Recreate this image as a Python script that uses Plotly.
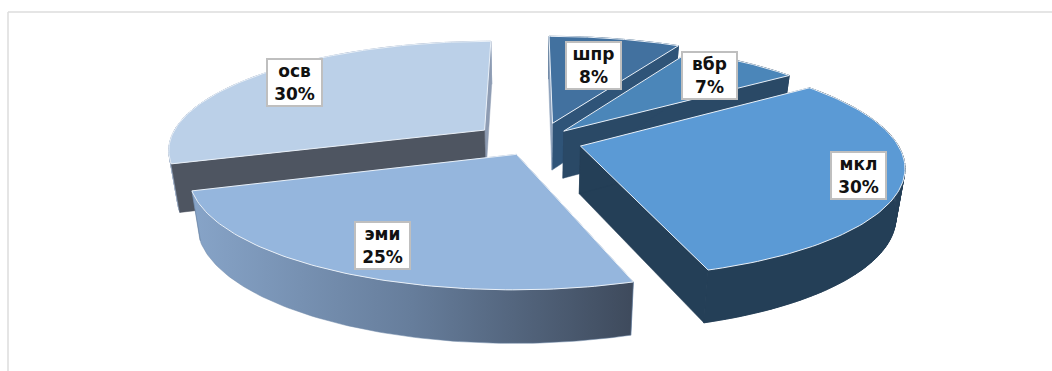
import numpy as np
import plotly.graph_objects as go

# ---- data -------------------------------------------------------------
categories = ["шпр", "вбр", "мкл", "эми", "осв"]
shares = [8, 7, 30, 25, 30]

# ---- style ------------------------------------------------------------
top_colors = ["#42719f", "#4b86b9", "#5b9ad5", "#95b6dd", "#bbd0e8"]
outer_colors = ["#2f5478", "#2a4966", "#243f57", "#6f88a8", "#9fb0c8"]
start_colors = ["#8fa3bd", "#2a4966", "#243f57", "#6f88a8", "#4e5561"]
end_colors = ["#2f5478", "#2a4966", "#243f57", "#6f88a8", "#8e9cb3"]
pull_uv = [(0.08, 0.16), (0.115, 0.084), (0.165, -0.056), (-0.036, -0.131), (-0.14, 0.094)]
label_centers = [(593, 65), (709, 75), (858, 175), (382, 245), (294.5, 82.5)]
draw_order = ["шпр", "вбр", "осв", "мкл", "эми"]
gradient_slice = "эми"
gradient = [[0, "#87a4c8"], [0.5, "#667d9b"], [1, "#3e4a5c"]]

CX, CY, R0, S, P = 528, 140, 315, 107, 0.17
H0, PH, CONVERGE = 47.5, 0.10, 0.976


def project(u, v, bottom=False):
    w = 1 + P * v
    x = CX + R0 * u / w
    y = CY - S * v / w
    if bottom:
        x = CX + (x - CX) * CONVERGE
        y = y + H0 / (1 + PH * v)
    return x, y


def polygon(xs, ys, color, line=None, grad=None):
    kw = dict(fillcolor=color)
    if grad:
        kw = dict(fillgradient=dict(type="horizontal", colorscale=grad))
    return go.Scatter(
        x=list(xs) + [xs[0]], y=list(ys) + [ys[0]], mode="lines", fill="toself",
        line=dict(color=line or color, width=1 if line else 0.5),
        hoverinfo="skip", showlegend=False, **kw,
    )


def strip_quads(tx, ty, bx, by, color):
    xs, ys = [], []
    for k in range(len(tx) - 1):
        xs += [tx[k], tx[k + 1], bx[k + 1], bx[k], tx[k], None]
        ys += [ty[k], ty[k + 1], by[k + 1], by[k], ty[k], None]
    return go.Scatter(
        x=xs, y=ys, mode="lines", fill="toself", fillcolor=color,
        line=dict(color=color, width=0.8), hoverinfo="skip", showlegend=False,
    )


fig = go.Figure()
edges = np.cumsum([0] + shares) / sum(shares) * 2 * np.pi

for name in draw_order:
    i = categories.index(name)
    a0, a1 = edges[i], edges[i + 1]
    ou, ov = pull_uv[i]
    t = np.linspace(a0, a1, 90)
    u, v = ou + np.sin(t), ov + np.cos(t)
    tx, ty = project(u, v)
    bx, by = project(u, v, bottom=True)
    ax, ay = project(ou, ov)
    abx, aby = project(ou, ov, bottom=True)

    end_face = polygon([ax, tx[-1], bx[-1], abx], [ay, ty[-1], by[-1], aby], end_colors[i])
    start_face = polygon([ax, tx[0], bx[0], abx], [ay, ty[0], by[0], aby], start_colors[i])
    if name == gradient_slice:
        fig.add_traces([
            end_face, start_face,
            polygon(np.r_[tx, bx[::-1]], np.r_[ty, by[::-1]], outer_colors[i], grad=gradient),
        ])
    else:
        fig.add_traces([
            strip_quads(tx, ty, bx, by, outer_colors[i]),
            polygon(np.r_[tx, bx[::-1]], np.r_[ty, by[::-1]], outer_colors[i]),
            end_face, start_face,
        ])
    fig.add_trace(polygon(np.r_[ax, tx], np.r_[ay, ty], top_colors[i], line="#e9f0f8"))

annotations = [
    dict(
        x=lx, y=ly, xref="x", yref="y", showarrow=False,
        text=f"<b>{name}</b><br><b>{val}%</b>",
        font=dict(family="DejaVu Sans", size=17, color="#111111"),
        bgcolor="white", bordercolor="#bfbfbf", borderwidth=2, borderpad=0,
        width=53, height=45, align="center", valign="middle",
    )
    for name, val, (lx, ly) in zip(categories, shares, label_centers)
]

frame = dict(type="line", xref="x", yref="y", line=dict(color="#dcdcdc", width=1.5))
fig.update_layout(
    width=1052, height=371, margin=dict(l=0, r=0, t=0, b=0),
    paper_bgcolor="white", plot_bgcolor="white",
    xaxis=dict(range=[0, 1052], visible=False, fixedrange=True),
    yaxis=dict(range=[371, 0], visible=False, fixedrange=True),
    annotations=annotations,
    shapes=[dict(x0=8, x1=8, y0=12, y1=371, **frame), dict(x0=8, x1=1052, y0=12, y1=12, **frame)],
)
fig.write_html(
    "out.html",
    config={"displayModeBar": False},
    post_script="document.body.style.margin='0';document.documentElement.style.overflow='hidden';",
)
